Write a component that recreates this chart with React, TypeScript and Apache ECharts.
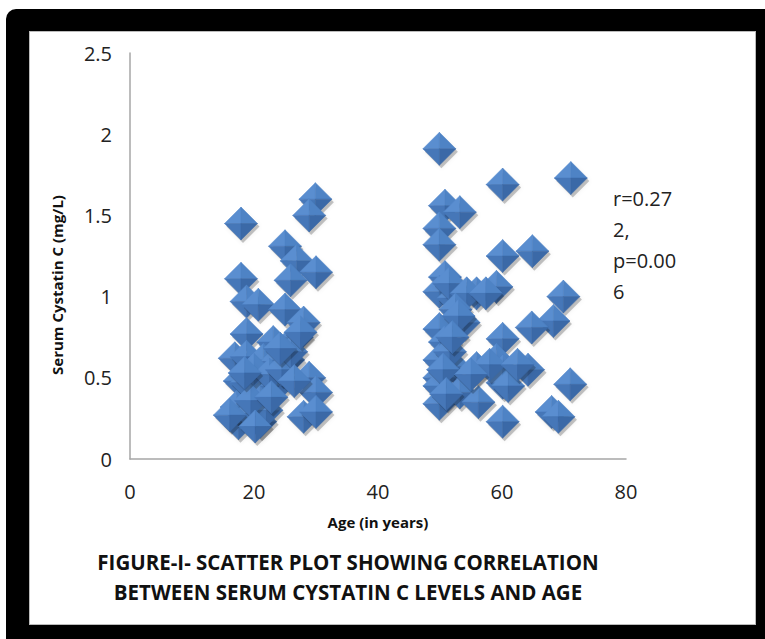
import React, { useEffect, useRef } from "react";
import * as echarts from "echarts";

const ages: number[] = [
  29.9, 28.9, 17.9, 25, 26.9, 30, 25.9, 17.9, 18.8, 20.7, 25, 28, 18.8, 23.1, 26.9, 16.9, 18.8, 21.5, 23.7, 25.5,
  17.7, 18.8, 21, 23.7, 28.9, 30, 28, 30, 17.5, 21, 17.2, 19.4, 22, 16.1, 20, 22.5, 24.5, 26, 19.5, 22.8, 24.2,
  20.2, 27.5, 18.5, 26.5,
  49.9, 60.1, 71.1, 50.8, 53.2, 49.9, 49.9, 60.1, 64.9, 50.8, 49.9, 52.2, 55.9, 59.1, 51.5, 69.9, 68.3, 64.8,
  53.8, 49.9, 50.8, 60.1, 49.9, 52.2, 55.9, 59.1, 60.2, 64.2, 49.9, 49.9, 49.9, 53.2, 56.2, 60.1, 71, 68, 69.1,
  60.1, 54.3, 57.4, 52.5, 51.6, 53, 50.5, 51, 58, 61, 55, 52, 62.5,
];
const cystatin: number[] = [
  1.6, 1.5, 1.45, 1.31, 1.22, 1.15, 1.1, 1.11, 0.97, 0.95, 0.92, 0.84, 0.77, 0.72, 0.75, 0.62, 0.63, 0.61, 0.6, 0.61,
  0.48, 0.47, 0.4, 0.45, 0.5, 0.41, 0.26, 0.29, 0.22, 0.23, 0.32, 0.28, 0.3, 0.27, 0.55, 0.52, 0.55, 0.66, 0.36, 0.38, 0.68,
  0.2, 0.78, 0.53, 0.48,
  1.91, 1.69, 1.73, 1.56, 1.52, 1.42, 1.32, 1.25, 1.28, 1.12, 1.03, 0.99, 1.02, 1.06, 1.08, 1.0, 0.85, 0.81,
  0.84, 0.8, 0.72, 0.74, 0.61, 0.57, 0.56, 0.61, 0.54, 0.55, 0.5, 0.45, 0.34, 0.41, 0.35, 0.47, 0.46, 0.29, 0.26,
  0.23, 1.02, 1.02, 0.92, 0.66, 0.88, 0.55, 0.4, 0.58, 0.45, 0.52, 0.75, 0.58,
];
const xTicks: number[] = [0, 20, 40, 60, 80];
const yTicks: number[] = [0, 0.5, 1, 1.5, 2, 2.5];
const statLines: string[] = ["r=0.27", "2,", "p=0.00", "6"];
const titleLines: string[] = [
  "FIGURE-I- SCATTER PLOT SHOWING CORRELATION",
  "BETWEEN SERUM CYSTATIN C LEVELS AND AGE",
];
const xName = "Age (in years)";
const yName = "Serum Cystatin C (mg/L)";

const FONT = "'Open Sans', sans-serif";

export default function App() {
  const ref = useRef<HTMLDivElement>(null);
  useEffect(() => {
    if (!ref.current) return;
    const chart = echarts.init(ref.current, undefined, { renderer: "svg" });
    const data = ages.map((a, i) => [a, cystatin[i]]);
    chart.setOption({
      animation: false,
      backgroundColor: "transparent",
      grid: { left: 130, top: 53, right: 139, bottom: 180 },
      xAxis: {
        type: "value",
        min: xTicks[0],
        max: xTicks[xTicks.length - 1],
        interval: 20,
        axisLine: { show: true, lineStyle: { color: "#a6a6a6", width: 1.5 } },
        axisTick: { show: false },
        splitLine: { show: false },
        axisLabel: { fontFamily: FONT, fontSize: 20, color: "#222", margin: 22 },
      },
      yAxis: {
        type: "value",
        min: yTicks[0],
        max: yTicks[yTicks.length - 1],
        interval: 0.5,
        axisLine: { show: true, lineStyle: { color: "#a6a6a6", width: 1.5 } },
        axisTick: { show: false },
        splitLine: { show: false },
        axisLabel: { fontFamily: FONT, fontSize: 20, color: "#222", margin: 18 },
      },
      graphic: [
        {
          type: "text",
          left: 613,
          top: 183,
          style: {
            text: statLines.join("\n"),
            font: `20px ${FONT}`,
            lineHeight: 31,
            fill: "#222",
          },
        },
        {
          type: "text",
          x: 378,
          y: 522,
          style: {
            text: xName,
            font: `bold 15px ${FONT}`,
            fill: "#111",
            align: "center",
            verticalAlign: "middle",
          },
        },
        {
          type: "text",
          x: 57,
          y: 285,
          rotation: Math.PI / 2,
          style: {
            text: yName,
            font: `bold 15px ${FONT}`,
            fill: "#111",
            align: "center",
            verticalAlign: "middle",
          },
        },
        {
          type: "text",
          x: 348,
          y: 577,
          style: {
            text: titleLines.join("\n"),
            font: `bold 20.5px ${FONT}`,
            lineHeight: 30,
            fill: "#111",
            align: "center",
            verticalAlign: "middle",
          },
        },
      ],
      series: [
        {
          type: "custom",
          data,
          renderItem: (params: any, api: any) => {
            const p = api.coord([api.value(0), api.value(1)]);
            const h = 16.5;
            const [x, y] = p;
            const t = [x, y - h], r = [x + h, y], b = [x, y + h], l = [x - h, y], c = [x, y];
            return {
              type: "group",
              children: [
                {
                  type: "polygon",
                  shape: { points: [[t[0] + 2, t[1] + 3], [r[0] + 2, r[1] + 3], [b[0] + 2, b[1] + 3], [l[0] + 2, l[1] + 3]] },
                  style: { fill: "rgba(0,0,0,0.22)", shadowBlur: 4, shadowColor: "rgba(0,0,0,0.3)" },
                },
                { type: "polygon", shape: { points: [l, t, c] }, style: { fill: "#5A8ED0", stroke: "#5A8ED0", lineWidth: 0.5 } },
                { type: "polygon", shape: { points: [t, r, c] }, style: { fill: "#4E83C5", stroke: "#4E83C5", lineWidth: 0.5 } },
                { type: "polygon", shape: { points: [l, b, c] }, style: { fill: "#4677B8", stroke: "#4677B8", lineWidth: 0.5 } },
                { type: "polygon", shape: { points: [r, b, c] }, style: { fill: "#3B69A7", stroke: "#3B69A7", lineWidth: 0.5 } },
              ],
            };
          },
        },
      ],
    });
    return () => chart.dispose();
  }, []);

  return (
    <div style={{ position: "absolute", left: 0, top: 0, width: 765, height: 639, background: "#fff" }}>
      <div
        style={{
          position: "absolute",
          left: 6,
          top: 9,
          width: 759,
          height: 630,
          background: "#000",
          borderTopLeftRadius: 10,
        }}
      />
      <div
        style={{
          position: "absolute",
          left: 29,
          top: 31,
          width: 727,
          height: 594,
          background: "#fff",
          boxShadow: "inset 0 0 0 1px #bbb",
        }}
      />
      <div ref={ref} style={{ position: "absolute", left: 0, top: 0, width: 765, height: 639 }} />
    </div>
  );
}
